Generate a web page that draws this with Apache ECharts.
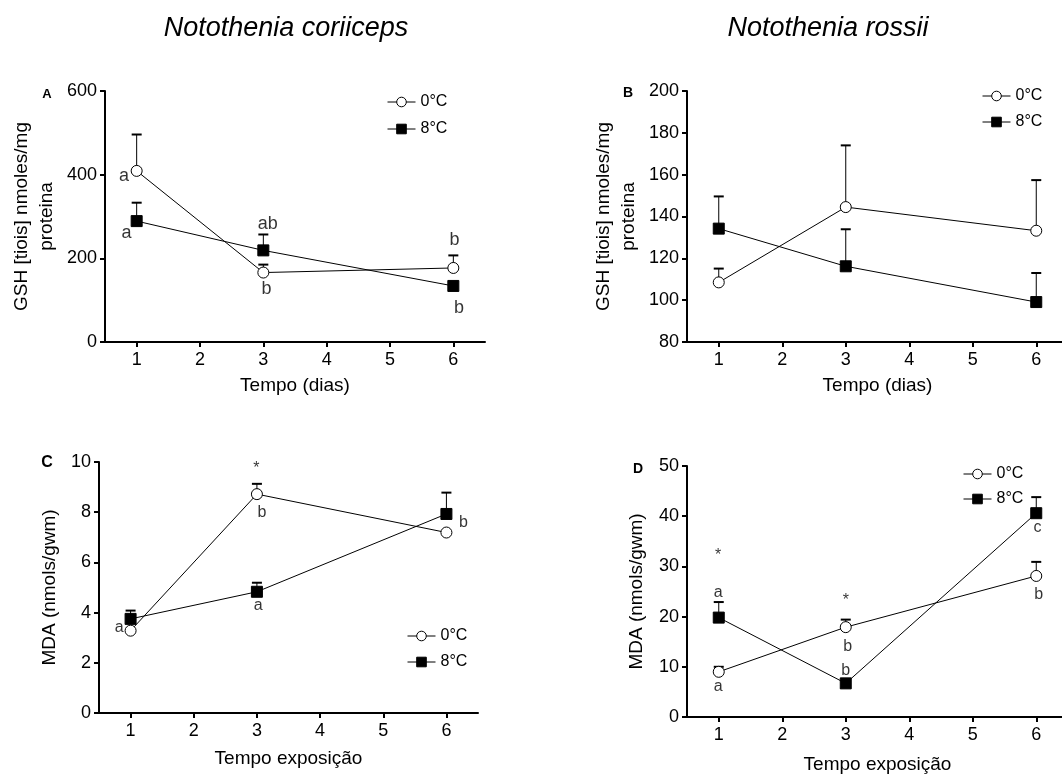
<!DOCTYPE html>
<html>
<head>
<meta charset="utf-8">
<title>Notothenia GSH / MDA</title>
<script src="https://cdn.jsdelivr.net/npm/echarts@6/dist/echarts.min.js"></script>
<style>
  html, body { margin: 0; padding: 0; background: #fff; }
  #chart { width: 1062px; height: 776px; }
</style>
</head>
<body>
<div id="chart"></div>
<script>
// dias de exposição
const days = [1, 3, 6]
const xTicks = [1, 2, 3, 4, 5, 6]
const seriesNames = ['0°C', '8°C']

// A - GSH N. coriiceps
const gshCor0 = [409, 166, 177]
const gshCor0Sem = [87, 19, 30]
const gshCor8 = [289, 219, 134]
const gshCor8Sem = [44, 38, 0]

// B - GSH N. rossii
const gshRos0 = [108.5, 144.5, 133.2]
const gshRos0Sem = [6.6, 29.5, 24.2]
const gshRos8 = [134.2, 116.2, 99.1]
const gshRos8Sem = [15.4, 17.7, 13.9]

// C - MDA N. coriiceps
const mdaCor0 = [3.28, 8.72, 7.19]
const mdaCor0Sem = [0, 0.41, 0]
const mdaCor8 = [3.75, 4.83, 7.93]
const mdaCor8Sem = [0.33, 0.36, 0.85]

// D - MDA N. rossii
const mdaRos0 = [9.0, 17.9, 28.1]
const mdaRos0Sem = [1.0, 1.5, 2.8]
const mdaRos8 = [19.8, 6.7, 40.6]
const mdaRos8Sem = [3.1, 0, 3.2]

// letras de significância [x, y, texto]
const notesA = [[0.80, 396, 'a'], [0.84, 261, 'a'], [3.07, 283, 'ab'], [3.05, 126, 'b'], [6.02, 243, 'b'], [6.09, 82, 'b']]
const notesC = [[2.99, 9.74, '*'], [3.08, 7.97, 'b'], [0.82, 3.42, 'a'], [3.02, 4.28, 'a'], [6.27, 7.58, 'b']]
const notesD = [[0.99, 32.2, '*'], [0.99, 24.8, 'a'], [0.99, 6.0, 'a'], [3.0, 23.1, '*'], [3.03, 14.0, 'b'], [3.0, 9.3, 'b'], [6.02, 37.7, 'c'], [6.04, 24.3, 'b']]

const FONT = '"Liberation Sans", Arial, Helvetica, sans-serif'

const panels = [
  { grid: { left: 105, top: 91, width: 380, height: 251 }, y: [0, 600, 200], yName: 'GSH [tiois] nmoles/mg\nproteina', yGap: 46, xName: 'Tempo (dias)', xGap: 34, s0: gshCor0, e0: gshCor0Sem, s8: gshCor8, e8: gshCor8Sem, notes: notesA, noteSize: 18 },
  { grid: { left: 687, top: 91, width: 381, height: 251 }, y: [80, 200, 20], yName: 'GSH [tiois] nmoles/mg\nproteina', yGap: 46, xName: 'Tempo (dias)', xGap: 34, s0: gshRos0, e0: gshRos0Sem, s8: gshRos8, e8: gshRos8Sem, notes: [], noteSize: 18 },
  { grid: { left: 99, top: 462, width: 379, height: 251 }, y: [0, 10, 2], yName: 'MDA (nmols/gwm)', yGap: 37, xName: 'Tempo exposição', xGap: 36, s0: mdaCor0, e0: mdaCor0Sem, s8: mdaCor8, e8: mdaCor8Sem, notes: notesC, noteSize: 16 },
  { grid: { left: 687, top: 466, width: 381, height: 251 }, y: [0, 50, 10], yName: 'MDA (nmols/gwm)', yGap: 38, xName: 'Tempo exposição', xGap: 38, s0: mdaRos0, e0: mdaRos0Sem, s8: mdaRos8, e8: mdaRos8Sem, notes: notesD, noteSize: 16 },
]

const legendPos = [
  { left: 382, top: 89, itemGap: 11 },
  { left: 977, top: 83, itemGap: 10 },
  { left: 402, top: 623, itemGap: 10 },
  { left: 958, top: 461, itemGap: 9 },
]

const panelLetters = [
  { text: 'A', x: 47, y: 94, size: 13 },
  { text: 'B', x: 628, y: 93, size: 14 },
  { text: 'C', x: 47, y: 463, size: 16 },
  { text: 'D', x: 638, y: 469, size: 14 },
]

const errorBar = (params, api) => {
  const x = api.value(0)
  const y = api.value(1)
  const sem = api.value(2)
  if (!sem) return null
  const p0 = api.coord([x, y])
  const p1 = api.coord([x, y + sem])
  return {
    type: 'group',
    children: [
      { type: 'line', shape: { x1: p0[0], y1: p0[1], x2: p1[0], y2: p1[1] }, style: { stroke: '#000', lineWidth: 1 } },
      { type: 'line', shape: { x1: p1[0] - 5, y1: p1[1], x2: p1[0] + 5, y2: p1[1] }, style: { stroke: '#000', lineWidth: 2 } },
    ],
  }
}

const xAxes = []
const yAxes = []
const series = []

panels.forEach((p, i) => {
  xAxes.push({
    gridIndex: i,
    type: 'value',
    min: 0.5,
    max: 6.5,
    name: p.xName,
    nameLocation: 'middle',
    nameGap: p.xGap,
    nameTextStyle: { fontSize: 19, color: '#000', fontFamily: FONT },
    axisLine: { onZero: false, lineStyle: { color: '#000', width: 2 } },
    axisTick: { show: true, length: 5, lineStyle: { color: '#000', width: 2 }, customValues: xTicks },
    axisLabel: { fontSize: 18, color: '#000', fontFamily: FONT, margin: 9, customValues: xTicks },
    splitLine: { show: false },
  })
  yAxes.push({
    gridIndex: i,
    type: 'value',
    min: p.y[0],
    max: p.y[1],
    interval: p.y[2],
    name: p.yName,
    nameLocation: 'middle',
    nameGap: p.yGap,
    nameTextStyle: { fontSize: 19, color: '#000', fontFamily: FONT, lineHeight: 25, align: 'center' },
    axisLine: { show: true, lineStyle: { color: '#000', width: 2 } },
    axisTick: { show: true, length: 5, lineStyle: { color: '#000', width: 2 } },
    axisLabel: { fontSize: 18, color: '#000', fontFamily: FONT, margin: 8 },
    splitLine: { show: false },
  })

  const groups = [
    { name: seriesNames[0], vals: p.s0, sem: p.e0, symbol: 'circle', fill: '#fff' },
    { name: seriesNames[1], vals: p.s8, sem: p.e8, symbol: 'rect', fill: '#000' },
  ]
  groups.forEach((g) => {
    series.push({
      type: 'custom',
      xAxisIndex: i,
      yAxisIndex: i,
      renderItem: errorBar,
      data: days.map((d, k) => [d, g.vals[k], g.sem[k]]),
      z: 1,
      silent: true,
      tooltip: { show: false },
    })
  })
  groups.forEach((g) => {
    series.push({
      type: 'line',
      name: g.name,
      xAxisIndex: i,
      yAxisIndex: i,
      data: days.map((d, k) => [d, g.vals[k]]),
      symbol: g.symbol,
      symbolSize: 11,
      showAllSymbol: true,
      lineStyle: { color: '#000', width: 1 },
      itemStyle: { color: g.fill, borderColor: '#000', borderWidth: 1 },
      emphasis: { disabled: true },
      z: 3,
    })
  })

  if (p.notes.length) {
    series.push({
      type: 'scatter',
      xAxisIndex: i,
      yAxisIndex: i,
      data: p.notes,
      symbolSize: 0,
      silent: true,
      itemStyle: { color: '#000' },
      label: {
        show: true,
        position: 'inside',
        formatter: (d) => d.value[2],
        fontSize: p.noteSize,
        color: '#000',
        textBorderWidth: 0,
        fontFamily: FONT,
      },
      z: 4,
    })
  }
})

const chart = echarts.init(document.getElementById('chart'))
chart.setOption({
  animation: false,
  backgroundColor: '#fff',
  textStyle: { fontFamily: FONT },
  title: [
    { text: 'Notothenia coriiceps', left: 281, top: 10, textAlign: 'center', textStyle: { fontSize: 27, fontStyle: 'italic', fontWeight: 'normal', color: '#000', fontFamily: FONT } },
    { text: 'Notothenia rossii', left: 823, top: 10, textAlign: 'center', textStyle: { fontSize: 27, fontStyle: 'italic', fontWeight: 'normal', color: '#000', fontFamily: FONT } },
  ],
  legend: legendPos.map((l) => ({
    data: seriesNames,
    orient: 'vertical',
    left: l.left,
    top: l.top,
    itemGap: l.itemGap,
    itemWidth: 28,
    itemHeight: 12,
    selectedMode: false,
    itemStyle: { borderWidth: 1 },
    lineStyle: { width: 1 },
    textStyle: { fontSize: 16, color: '#000', fontFamily: FONT },
  })),
  grid: panels.map((p) => ({ ...p.grid, containLabel: false, outerBoundsMode: 'none' })),
  xAxis: xAxes,
  yAxis: yAxes,
  series: series,
  graphic: panelLetters.map((t) => ({
    type: 'text',
    x: t.x,
    y: t.y,
    style: { text: t.text, font: `bold ${t.size}px ${FONT}`, fill: '#000', textAlign: 'center', textVerticalAlign: 'middle' },
  })),
})
</script>
</body>
</html>
